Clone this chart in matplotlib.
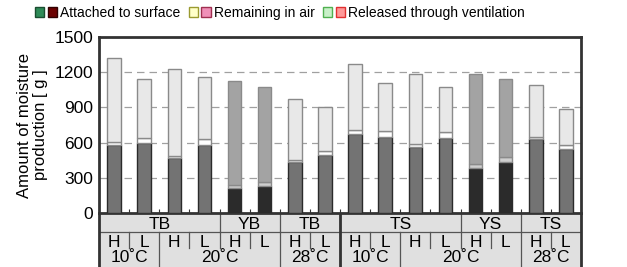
import matplotlib
matplotlib.use('Agg')
import matplotlib.pyplot as plt
from matplotlib.patches import Patch
from matplotlib.legend_handler import HandlerTuple
from itertools import groupby

plt.rcParams['font.family'] = ['Liberation Sans', 'DejaVu Sans']

# case / humidity / temperature for each bar
cases = ['TB', 'TB', 'TB', 'TB', 'YB', 'YB', 'TB', 'TB',
         'TS', 'TS', 'TS', 'TS', 'YS', 'YS', 'TS', 'TS']
humid = ['H', 'L', 'H', 'L', 'H', 'L', 'H', 'L',
         'H', 'L', 'H', 'L', 'H', 'L', 'H', 'L']
temps = [10, 10, 20, 20, 20, 20, 28, 28,
         10, 10, 20, 20, 20, 20, 28, 28]

# moisture amounts [g]
attached = [578, 593, 467, 578, 213, 230, 436, 493,
            673, 650, 564, 641, 387, 433, 633, 542]
remaining = [23, 43, 23, 52, 23, 31, 14, 34,
             34, 46, 23, 46, 29, 43, 14, 37]
released = [720, 505, 737, 525, 885, 812, 523, 380,
            566, 408, 600, 386, 768, 668, 446, 308]

yticks = [0, 300, 600, 900, 1200, 1500]

W, H = 627, 267
fig = plt.figure(figsize=(W / 100, H / 100), dpi=100)
ax = fig.add_axes([99 / W, (H - 213) / H, (581 - 99) / W, (213 - 37) / H])
tax = fig.add_axes([99 / W, 0, (581 - 99) / W, (H - 214) / H])
ax.set_zorder(3)

n = len(cases)
x = [i + 0.5 for i in range(n)]
bw = 0.45

# colours (grey print version)
c_att = ['#2b2b2b' if c[0] == 'Y' else '#737373' for c in cases]
c_rem = ['#cfcfcf' if c[0] == 'Y' else '#ffffff' for c in cases]
c_rel = ['#a3a3a3' if c[0] == 'Y' else '#e8e8e8' for c in cases]

bot2 = [a + r for a, r in zip(attached, remaining)]
ax.bar(x, attached, bw, color=c_att, edgecolor='#2a2a2a', linewidth=1, zorder=3)
ax.bar(x, remaining, bw, bottom=attached, color=c_rem, edgecolor='#8a8a8a',
       linewidth=1, zorder=3)
ax.bar(x, released, bw, bottom=bot2, color=c_rel, edgecolor='#8a8a8a',
       linewidth=1, zorder=3)

ax.set_xlim(0, n)
ax.set_ylim(0, 1500)
ax.set_yticks(yticks)
ax.set_yticklabels([str(v) for v in yticks], fontsize=12.5)
ax.tick_params(axis='y', length=0, pad=4)
ax.set_xticks(range(1, n))
ax.set_xticklabels([])
ax.tick_params(axis='x', direction='in', length=3, color='#333333')
ax.yaxis.grid(True, linestyle=(0, (6, 4)), color='#a0a0a0', linewidth=0.9, zorder=0)
ax.set_axisbelow(True)
for s in ax.spines.values():
    s.set_linewidth(2)
    s.set_color('#333333')
ax.set_ylabel('Amount of moisture\nproduction [ g ]', fontsize=12,
              labelpad=5, linespacing=1.05)

# category table below the axes
tax.set_xlim(0, n)
tax.set_ylim(0, 1)
tax.set_facecolor('#e0e0e0')
tax.set_xticks([])
tax.set_yticks([])
for s in tax.spines.values():
    s.set_visible(False)

ysep = 0.654
lc = '#555555'
fs = 12.5
tax.axhline(ysep, color=lc, linewidth=0.9)

# row 1: case groups
pos = 0
for key, grp in groupby(cases):
    k = len(list(grp))
    tax.text(pos + k / 2, 0.8, key, ha='center', va='center', fontsize=fs)
    if pos > 0:
        tax.plot([pos, pos], [ysep, 1], color=lc, linewidth=0.9)
    pos += k

# row 2: temperature groups
pos = 0
temp_edges = []
for key, grp in groupby(temps):
    k = len(list(grp))
    tax.text(pos + k / 2, 0.17, f'{key}˚C', ha='center', va='center', fontsize=fs)
    if pos > 0:
        temp_edges.append(pos)
        tax.plot([pos, pos], [0, ysep], color=lc, linewidth=0.9)
    pos += k

for i, h in enumerate(humid):
    tax.text(x[i], 0.47, h, ha='center', va='center', fontsize=fs)
    if i > 0 and i not in temp_edges:
        tax.plot([i, i], [0.36, ysep], color=lc, linewidth=0.9)

# boundary between B and S series and outer borders
half = [i for i in range(1, n) if cases[i][1] != cases[i - 1][1]]
for b in [0] + half + [n]:
    tax.plot([b, b], [0, 1], color='#333333', linewidth=2, clip_on=False)

# legend
handles = [
    (Patch(facecolor='#2e8b57', edgecolor='#1a4d30'), Patch(facecolor='#6b0000', edgecolor='#300000')),
    (Patch(facecolor='#ffffc8', edgecolor='#9a9a30'), Patch(facecolor='#f090b8', edgecolor='#a03050')),
    (Patch(facecolor='#c8f0c8', edgecolor='#50b050'), Patch(facecolor='#ff9898', edgecolor='#e03030')),
]
labels = ['Attached to surface', 'Remaining in air', 'Released through ventilation']
fig.legend(handles, labels, handler_map={tuple: HandlerTuple(ndivide=None, pad=0.25)},
           loc='center left', bbox_to_anchor=(35 / W, (H - 13) / H), ncol=3,
           frameon=False, fontsize=10, handlelength=1.6, handleheight=0.8,
           handletextpad=0.2, columnspacing=0.6, borderpad=0, borderaxespad=0)

fig.savefig('out.png', dpi=100)
